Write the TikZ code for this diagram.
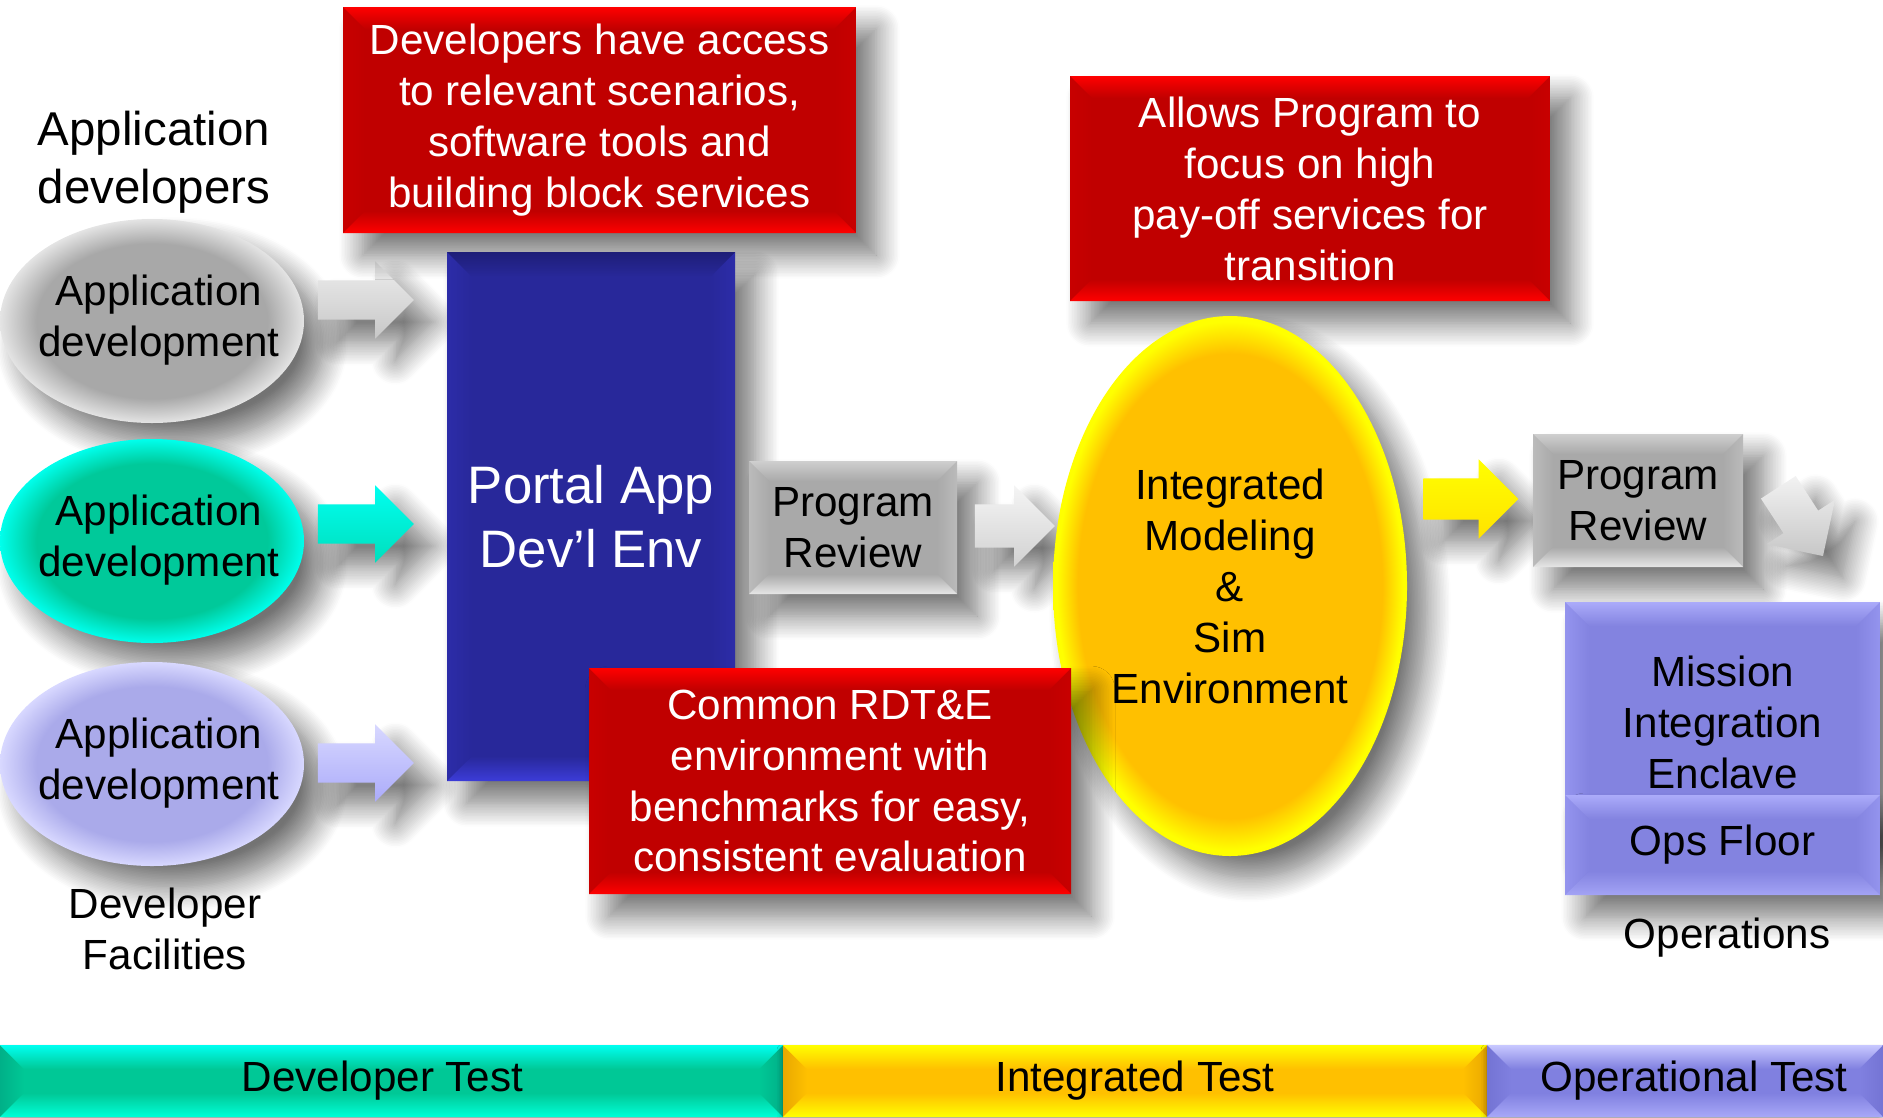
\documentclass[tikz,border=0pt]{standalone}
\usepackage{fontspec}
\setmainfont{Liberation Sans}
\usetikzlibrary{shapes.geometric}
\usetikzlibrary{shapes.arrows}
\usetikzlibrary{shadows.blur}

\definecolor{redmain}{HTML}{C00000}
\definecolor{rededge}{HTML}{FF0000}
\definecolor{redside}{HTML}{C80000}
\definecolor{bluemain}{HTML}{28289A}
\definecolor{bluetop}{HTML}{1E1E78}
\definecolor{bluebot}{HTML}{3C3CD8}
\definecolor{blueside}{HTML}{2C2CA8}
\definecolor{greymain}{HTML}{A9A9A9}
\definecolor{greytop}{HTML}{CFCFCF}
\definecolor{greybot}{HTML}{E6E6E6}
\definecolor{greyside}{HTML}{BBBBBB}
\definecolor{lavmain}{HTML}{8383E0}
\definecolor{lavtop}{HTML}{ABABFA}
\definecolor{lavbot}{HTML}{A3A3F5}
\definecolor{lavside}{HTML}{9494EE}
\definecolor{tealmain}{HTML}{00C896}
\definecolor{tealtop}{HTML}{00FFF0}
\definecolor{tealbot}{HTML}{00FFD8}
\definecolor{tealside}{HTML}{00B088}
\definecolor{ambermain}{HTML}{FFC000}
\definecolor{ambertop}{HTML}{FFFF00}
\definecolor{amberside}{HTML}{E8A800}
\definecolor{lavbarmain}{HTML}{8080E0}
\definecolor{lavbartop}{HTML}{C8C8FF}
\definecolor{lavbarbot}{HTML}{A8A8F8}
\definecolor{lavbarside}{HTML}{7474D4}
\definecolor{ellgrey}{HTML}{A8A8A8}
\definecolor{ellgreyedge}{HTML}{E4E4E4}
\definecolor{ellteal}{HTML}{00C99A}
\definecolor{elltealedge}{HTML}{00FFEC}
\definecolor{elllav}{HTML}{AAAAEA}
\definecolor{elllavedge}{HTML}{D8D8FF}

\pgfdeclareradialshading{ringyellow}{\pgfpoint{0bp}{0bp}}{color(0bp)=(ambermain); color(21.5bp)=(ambermain); color(24.5bp)=(ambertop); color(50bp)=(ambertop)}
\pgfdeclareradialshading{ringgrey}{\pgfpoint{0bp}{0bp}}{color(0bp)=(ellgrey); color(19bp)=(ellgrey); color(25bp)=(ellgreyedge); color(50bp)=(ellgreyedge)}
\pgfdeclareradialshading{ringteal}{\pgfpoint{0bp}{0bp}}{color(0bp)=(ellteal); color(19bp)=(ellteal); color(25bp)=(elltealedge); color(50bp)=(elltealedge)}
\pgfdeclareradialshading{ringlav}{\pgfpoint{0bp}{0bp}}{color(0bp)=(elllav); color(19bp)=(elllav); color(25bp)=(elllavedge); color(50bp)=(elllavedge)}

\newcommand{\ctrtext}[1]{\makebox[0pt]{\hspace*{0.14cm}\begin{tabular}{@{}c@{}}#1\end{tabular}}}

\tikzset{
  bevel width/.store in=\bevw,
  bevel width=0.22cm,
  bevel/.style n args={4}{fill=#1, path picture={
    \coordinate (bvnw) at (path picture bounding box.north west);
    \coordinate (bvne) at (path picture bounding box.north east);
    \coordinate (bvsw) at (path picture bounding box.south west);
    \coordinate (bvse) at (path picture bounding box.south east);
    \shade[left color=#4, right color=#1] (bvnw) -- ([shift={(\bevw,-\bevw)}]bvnw) -- ([shift={(\bevw,\bevw)}]bvsw) -- (bvsw) -- cycle;
    \shade[left color=#1, right color=#4] (bvne) -- ([shift={(-\bevw,-\bevw)}]bvne) -- ([shift={(-\bevw,\bevw)}]bvse) -- (bvse) -- cycle;
    \shade[top color=#2, bottom color=#1] (bvnw) -- (bvne) -- ([shift={(-\bevw,-\bevw)}]bvne) -- ([shift={(\bevw,-\bevw)}]bvnw) -- cycle;
    \shade[top color=#1, bottom color=#3] ([shift={(\bevw,\bevw)}]bvsw) -- ([shift={(-\bevw,\bevw)}]bvse) -- (bvse) -- (bvsw) -- cycle;
  }},
  shadowed/.style={blur shadow={shadow xshift=0.2cm, shadow yshift=-0.22cm, shadow blur radius=0.24cm, shadow blur steps=16, shadow opacity=55}},
  txt/.style={align=center, font=\fontsize{12}{14.5}\selectfont},
  redbox/.style={txt, text=white, inner sep=0pt, shadowed, bevel={redmain}{rededge}{rededge}{redside}},
  greybox/.style={txt, inner sep=0pt, shadowed, bevel width=0.2cm, bevel={greymain}{greytop}{greybot}{greyside}},
  lavbox/.style={txt, inner sep=0pt, shadowed, bevel width=0.24cm, bevel={lavmain}{lavtop}{lavbot}{lavside}},
  barseg/.style={txt, inner sep=0pt, minimum height=0.72cm, bevel width=0.24cm, blur shadow={shadow xshift=0cm, shadow yshift=-0.05cm, shadow blur radius=0.06cm, shadow opacity=35}},
  appell/.style={ellipse, txt, inner sep=0pt, minimum width=3.04cm, minimum height=2.04cm, shadowed},
  blkarrow/.style={single arrow, inner xsep=0pt, inner ysep=0.19cm, single arrow head extend=0.19cm, shadowed},
}

\begin{document}
\begin{tikzpicture}
\useasboundingbox (0,0) rectangle (18.83,-11.17);
% test phase bar
\node[barseg, bevel={tealmain}{tealtop}{tealbot}{tealside}, minimum width=7.83cm] (devtest) at (3.915,-10.81) {\kern-0.18cm Developer Test};
\node[barseg, bevel={ambermain}{ambertop}{ambertop}{amberside}, minimum width=7.04cm] (inttest) at (11.35,-10.81) {Integrated Test};
\node[barseg, bevel={lavbarmain}{lavbartop}{lavbarbot}{lavbarside}, minimum width=3.96cm] (optest) at (16.85,-10.81) {Operational Test\kern-0.18cm};
% developer facilities
\node[txt, font=\fontsize{13.5}{16.5}\selectfont] (devhead) at (1.54,-1.62) {Application\\developers};
\node[appell, shade, shading=ringgrey] (appdev1) at (1.52,-3.21) {\ctrtext{Application\\development}};
\node[appell, shade, shading=ringteal] (appdev2) at (1.52,-5.41) {\ctrtext{Application\\development}};
\node[appell, shade, shading=ringlav] (appdev3) at (1.52,-7.64) {\ctrtext{Application\\development}};
\node[txt] (devfac) at (1.65,-9.29) {Developer\\Facilities};
\node[blkarrow, minimum height=0.96cm, top color=white!93!black, bottom color=white!78!black] (arrgrey) at (3.56,-3.00) {};
\node[blkarrow, minimum height=0.96cm, top color=tealtop, bottom color=ellteal!60!tealtop] (arrteal) at (3.56,-5.24) {};
\node[blkarrow, minimum height=0.96cm, top color=elllavedge, bottom color=lavtop] (arrlav) at (3.56,-7.63) {};
% portal
\node[redbox, minimum width=5.13cm, minimum height=2.26cm] (access) at (5.995,-1.20) {Developers have access\\to relevant scenarios,\\software tools and\\building block services};
\node[txt, font=\fontsize{15}{18.4}\selectfont, text=white, inner sep=0pt, shadowed, bevel width=0.25cm, bevel={bluemain}{bluetop}{bluebot}{blueside}, minimum width=2.88cm, minimum height=5.29cm] (portal) at (5.91,-5.165) {Portal App\\Dev’l Env};
\node[greybox, minimum width=2.08cm, minimum height=1.33cm] (review1) at (8.53,-5.275) {Program\\Review};
\node[blkarrow, inner ysep=0.21cm, minimum height=0.80cm, top color=white!96!black, bottom color=white!82!black] (arrimse) at (10.04,-5.26) {};
% integrated modeling
\node[redbox, minimum width=4.80cm, minimum height=2.25cm] (focus) at (13.10,-1.885) {Allows Program to\\focus on high\\pay-off services for\\transition};
\node[ellipse, txt, inner sep=0pt, minimum width=3.54cm, minimum height=5.40cm, shade, shading=ringyellow, shadowed] (imse) at (12.30,-5.86) {Integrated\\Modeling\\\&\\Sim\\Environment};
\node[redbox, minimum width=4.82cm, minimum height=2.26cm] (common) at (8.30,-7.81) {Common RDT\&E\\environment with\\benchmarks for easy,\\consistent evaluation};
\node[blkarrow, inner ysep=0.2cm, minimum height=0.95cm, top color=ambertop, bottom color=ambertop!55!ambermain] (arrreview) at (14.605,-4.99) {};
% operations
\node[greybox, minimum width=2.10cm, minimum height=1.33cm] (review2) at (16.38,-5.005) {Program\\Review};
\node[blkarrow, rotate=-57, inner ysep=0.2cm, single arrow head extend=0.2cm, minimum height=0.82cm, top color=white!95!black, bottom color=white!78!black] (arrops) at (17.95,-5.13) {};
\node[lavbox, minimum width=3.15cm, minimum height=2.40cm] (enclave) at (17.225,-7.22) {Mission\\Integration\\Enclave};
\node[lavbox, minimum width=3.15cm, minimum height=1.00cm] (opsfloor) at (17.225,-8.45) {Ops Floor};
\node[txt] (opslbl) at (17.27,-9.38) {Operations};
\end{tikzpicture}
\end{document}
